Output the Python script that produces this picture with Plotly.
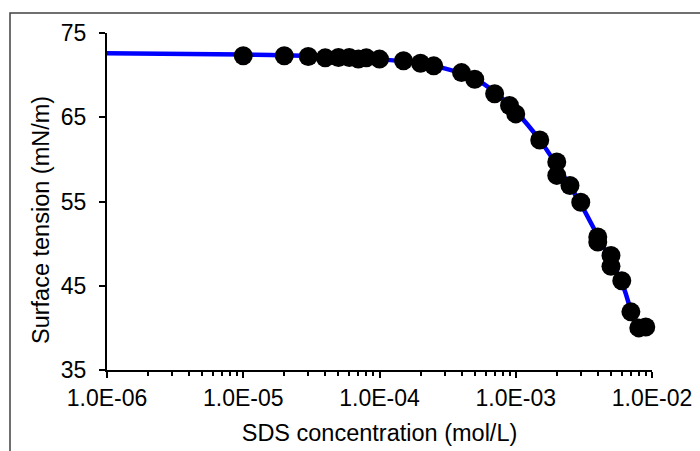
import plotly.graph_objects as go

# measured points
conc = [1e-5, 2e-5, 3e-5, 4e-5, 5e-5, 6e-5, 7e-5, 8e-5, 1e-4, 1.5e-4, 2e-4, 2.5e-4,
        4e-4, 5e-4, 7e-4, 9e-4, 1e-3, 1.5e-3, 2e-3, 2e-3, 2.5e-3, 3e-3, 4e-3, 4e-3,
        5e-3, 5e-3, 6e-3, 7e-3, 8e-3, 9e-3, 1e-2]
tension = [72.3, 72.3, 72.2, 72.05, 72.1, 72.1, 71.9, 72.05, 71.9, 71.7, 71.4, 71.1,
           70.3, 69.5, 67.8, 66.4, 65.4, 62.3, 59.7, 58.1, 56.9, 54.9, 50.8, 50.2,
           48.6, 47.3, 45.6, 41.9, 40.0, 40.1, 39.8]

# fitted curve
fit_conc = [1e-6, 1e-5, 3e-5, 1e-4, 2e-4, 3e-4, 4e-4, 5e-4, 7e-4, 1e-3, 1.5e-3,
            2e-3, 3e-3, 4e-3, 5e-3, 6e-3, 7e-3]
fit_tension = [72.6, 72.45, 72.3, 71.9, 71.35, 70.8, 70.2, 69.6, 68.0, 65.7, 62.3,
               59.3, 54.7, 50.9, 47.9, 45.4, 42.0]

x_major = [1e-6, 1e-5, 1e-4, 1e-3, 1e-2]
x_major_text = ["1.0E-06", "1.0E-05", "1.0E-04", "1.0E-03", "1.0E-02"]
y_ticks = [35, 45, 55, 65, 75]

minor_vals = [m * d for d in [1e-6, 1e-5, 1e-4, 1e-3] for m in range(2, 10)]

FONT = "Liberation Sans, Arial, sans-serif"

fig = go.Figure()
fig.add_trace(go.Scatter(x=fit_conc, y=fit_tension, mode="lines",
                         line=dict(color="#0000FF", width=4.5, shape="spline"),
                         showlegend=False, hoverinfo="skip"))
fig.add_trace(go.Scatter(x=conc, y=tension, mode="markers",
                         marker=dict(color="black", size=19),
                         cliponaxis=False, showlegend=False))

L, R, T, B = 107, 48, 33, 81
W, H = 700, 451
pw, ph = W - L - R, H - T - B

fig.update_layout(
    width=W, height=H,
    margin=dict(l=L, r=R, t=T, b=B, autoexpand=False),
    paper_bgcolor="white", plot_bgcolor="white",
    font=dict(family=FONT, color="black", size=23),
    xaxis=dict(type="log", range=[-6, -2], tickvals=x_major, ticktext=x_major_text,
               ticks="outside", ticklen=6, tickwidth=2, tickcolor="black",
               showline=True, linecolor="black", linewidth=2, showgrid=False,
               zeroline=False, tickfont=dict(size=23), automargin=False,
               minor=dict(tickvals=minor_vals, ticks="outside", ticklen=4,
                          tickwidth=2, tickcolor="black", showgrid=False),
               title=dict(text="SDS concentration (mol/L)", font=dict(size=23.5), standoff=15)),
    yaxis=dict(range=[35, 75], tickvals=y_ticks, ticks="outside", ticklen=6,
               tickwidth=2, tickcolor="black", showline=True, linecolor="black",
               linewidth=2, showgrid=False, zeroline=False, tickfont=dict(size=23),
               ticklabelstandoff=8, automargin=False),
    annotations=[dict(text="Surface tension (mN/m)", textangle=-90,
                      xref="paper", yref="paper",
                      x=(41 - L) / pw, y=(H - B - 220) / ph,
                      showarrow=False, font=dict(size=23.5),
                      xanchor="center", yanchor="middle")],
    shapes=[dict(type="rect", xref="paper", yref="paper",
                 x0=(10 - L) / pw, x1=(720 - L) / pw,
                 y0=(H - B - 480) / ph, y1=(H - B - 13) / ph,
                 line=dict(color="#404040", width=1.5), fillcolor="rgba(0,0,0,0)",
                 layer="below")],
)

fig.write_html("out.html", config={"displayModeBar": False},
               post_script="document.body.style.margin='0';document.body.style.overflow='hidden';")
